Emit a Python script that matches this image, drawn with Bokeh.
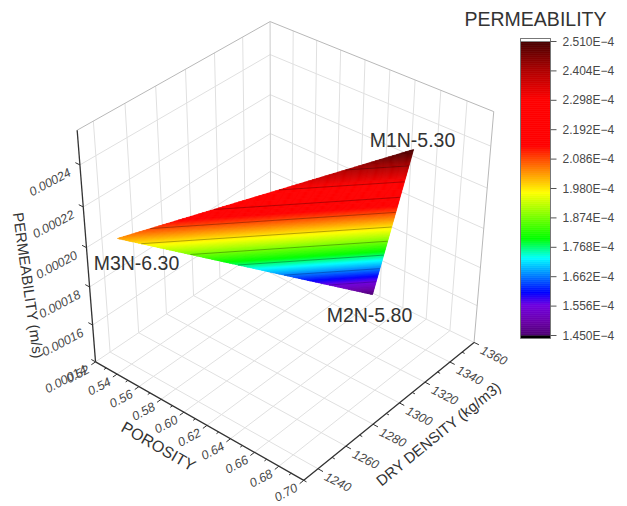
import numpy as np
from bokeh.plotting import figure
from bokeh.models import Range1d, ColumnDataSource
from bokeh.core.properties import value
from bokeh.embed import file_html
from bokeh.resources import INLINE

# ---- data ----
point_labels = ["M1N-5.30", "M2N-5.80", "M3N-6.30"]
porosity = [0.6815, 0.6208, 0.5328]
dry_density = [1319.3, 1352.9, 1241.1]
permeability = [2.51e-4, 1.45e-4, 2.03e-4]

porosity_ticks = [0.52, 0.54, 0.56, 0.58, 0.60, 0.62, 0.64, 0.66, 0.68, 0.70]
porosity_minor = [0.53, 0.55, 0.57, 0.59, 0.61, 0.63, 0.65, 0.67, 0.69]
density_ticks = [1240, 1260, 1280, 1300, 1320, 1340, 1360]
density_minor = [1230, 1250, 1270, 1290, 1310, 1330, 1350]
perm_ticks = [1.4e-4, 1.6e-4, 1.8e-4, 2.0e-4, 2.2e-4, 2.4e-4]
perm_tick_labels = ["0.00014", "0.00016", "0.00018", "0.00020", "0.00022", "0.00024"]

bar_ticks = [1.450e-4, 1.556e-4, 1.662e-4, 1.768e-4, 1.874e-4, 1.980e-4,
             2.086e-4, 2.192e-4, 2.298e-4, 2.404e-4, 2.510e-4]
bar_labels = ["1.450E\u22124", "1.556E\u22124", "1.662E\u22124", "1.768E\u22124", "1.874E\u22124",
              "1.980E\u22124", "2.086E\u22124", "2.192E\u22124", "2.298E\u22124", "2.404E\u22124",
              "2.510E\u22124"]
contour_levels = [1.556e-4, 1.662e-4, 1.768e-4, 1.874e-4, 1.980e-4, 2.086e-4, 2.192e-4, 2.298e-4, 2.404e-4]

cmap_values = [1.45e-4, 1.50e-4, 1.56e-4, 1.605e-4, 1.73e-4, 1.80e-4, 1.966e-4,
               2.135e-4, 2.30e-4, 2.404e-4, 2.51e-4]
cmap_colors = ["#4c0070", "#6a00a8", "#7000e0", "#0000ff", "#00ffff", "#00ff00", "#ffff00",
               "#ff0000", "#ff0000", "#b00000", "#460000"]

# ---- axis limits of the box ----
POR = (0.52, 0.70)
DEN = (1230.0, 1360.0)
PER = (1.40e-4, 2.56e-4)

# ---- view: where the box corners fall on the page, in window pixels ----
view = [(0, 0, 0, 95, 360), (1, 0, 0, 303, 481), (1, 1, 0, 474, 340), (0, 1, 0, 270, 245),
        (0, 0, 1, 77, 130), (0, 1, 1, 269.5, 20), (1, 1, 1, 493, 112)]
rows = []
for a, b, c, u, w in view:
    rows.append([a, b, c, 1, 0, 0, 0, 0, -u * a, -u * b, -u * c, -u])
    rows.append([0, 0, 0, 0, a, b, c, 1, -w * a, -w * b, -w * c, -w])
CAM = np.linalg.svd(np.array(rows, float))[2][-1].reshape(3, 4)


def unit(por, den, per):
    return ((por - POR[0]) / (POR[1] - POR[0]),
            (den - DEN[0]) / (DEN[1] - DEN[0]),
            (per - PER[0]) / (PER[1] - PER[0]))


def cube(a, b, c):
    q = CAM @ np.array([a, b, c, 1.0])
    return q[0] / q[2], q[1] / q[2]


def proj(por, den, per):
    return cube(*unit(por, den, per))


INK = "#333333"
SOFT = "#484848"
FONT = value("Liberation Sans")

p = figure(width=627, height=506, output_backend="svg", toolbar_location=None,
           x_range=Range1d(0, 627), y_range=Range1d(506, 0),
           min_border=0, outline_line_color=None)
p.axis.visible = False
p.grid.visible = False
p.background_fill_color = "white"


def seg(pts, color, width, alpha=1.0):
    xs, ys = zip(*[cube(*q) for q in pts])
    p.line(list(xs), list(ys), line_color=color, line_width=width, line_alpha=alpha)


GRID = "#e0e0e0"
EDGE = "#b8b8b8"
# walls and floor grid
for t in porosity_ticks[1:-1]:
    a = unit(t, DEN[0], PER[0])[0]
    seg([(a, 0, 0), (a, 1, 0), (a, 1, 1)], GRID, 1)
for t in density_ticks[:-1]:
    b = unit(POR[0], t, PER[0])[1]
    seg([(1, b, 0), (0, b, 0), (0, b, 1)], GRID, 1)
for t in perm_ticks[1:]:
    c = unit(POR[0], DEN[0], t)[2]
    seg([(0, 0, c), (0, 1, c), (1, 1, c)], GRID, 1)
# box edges
seg([(0, 0, 1), (0, 1, 1), (1, 1, 1), (1, 1, 0)], EDGE, 1)
seg([(0, 1, 0), (0, 1, 1)], "#cccccc", 1)
seg([(0, 0, 0), (0, 1, 0), (1, 1, 0)], GRID, 1)

# axes
seg([(0, 0, 0), (1, 0, 0), (1, 1, 0)], INK, 1.3)
seg([(0, 0, 0), (0, 0, 1)], INK, 1.3)
for t in porosity_ticks:
    a = unit(t, DEN[0], PER[0])[0]
    seg([(a, 0, 0), (a, -0.022, 0)], INK, 1)
for t in porosity_minor:
    a = unit(t, DEN[0], PER[0])[0]
    seg([(a, 0, 0), (a, -0.012, 0)], INK, 1)
for t in density_ticks:
    b = unit(POR[0], t, PER[0])[1]
    seg([(1, b, 0), (1.022, b, 0)], INK, 1)
for t in density_minor:
    b = unit(POR[0], t, PER[0])[1]
    seg([(1, b, 0), (1.012, b, 0)], INK, 1)
for t in perm_ticks:
    c = unit(POR[0], DEN[0], t)[2]
    seg([(0, 0, c), (-0.022, 0, c)], INK, 1)


def labels(xs, ys, texts, size, angle, color=INK, italic=False, align="center"):
    p.text(xs, ys, text=texts, text_font=FONT, text_font_size=f"{size}px", angle=angle,
           angle_units="deg", text_color=color, text_align=align, text_baseline="middle",
           text_font_style="italic" if italic else "normal")


# tick labels
pts = [proj(t, DEN[0], PER[0]) for t in porosity_ticks]
labels([q[0] - 18 for q in pts], [q[1] + 12 for q in pts], [f"{t:.2f}" for t in porosity_ticks], 12.5, 28, SOFT, True)
pts = [proj(POR[1], t, PER[0]) for t in density_ticks]
labels([q[0] + 20 for q in pts], [q[1] + 13 for q in pts], [str(t) for t in density_ticks], 12.5, -27, SOFT, True)
pts = [proj(POR[0], DEN[0], t) for t in perm_ticks]
labels([q[0] - 30 for q in pts], [q[1] + 17 for q in pts], perm_tick_labels, 12.5, 28, SOFT, True)

# axis titles
labels([158], [446], ["POROSITY"], 16, -30)
labels([438], [433], ["DRY DENSITY (kg/m3)"], 15, 39)
labels([28], [285], ["PERMEABILITY (m/s)"], 15, -82)


# colour scale
def colour(v):
    stops = np.array([[int(c[i:i + 2], 16) for i in (1, 3, 5)] for c in cmap_colors], float)
    rgb = [np.interp(v, cmap_values, stops[:, k]) for k in range(3)]
    return "#%02x%02x%02x" % tuple(int(round(x)) for x in rgb)


# triangle: one band of the plane per colour step
corners = np.array([list(unit(a, b, c)) + [c] for a, b, c in zip(porosity, dry_density, permeability)])


def clip(poly, lev, keep_above):
    out = []
    for i in range(len(poly)):
        s, e = poly[i], poly[(i + 1) % len(poly)]
        si = (s[3] >= lev) == keep_above
        ei = (e[3] >= lev) == keep_above
        if si:
            out.append(s)
        if si != ei:
            out.append(s + (e - s) * (lev - s[3]) / (e[3] - s[3]))
    return out


lo, hi = bar_ticks[0], bar_ticks[-1]
steps = np.linspace(lo, hi, 161)
band_x, band_y, band_c = [], [], []
for v0, v1 in zip(steps[:-1], steps[1:]):
    poly = clip(clip(list(corners), v0, True), v1, False)
    if len(poly) >= 3:
        xy = [cube(*q[:3]) for q in poly]
        band_x.append([q[0] for q in xy])
        band_y.append([q[1] for q in xy])
        band_c.append(colour((v0 + v1) / 2))
p.patches("x", "y", source=ColumnDataSource(dict(x=band_x, y=band_y, c=band_c)),
          fill_color="c", line_color="c", line_width=0.7, fill_alpha=1, line_alpha=1)

# contour lines
for lev in contour_levels:
    poly = clip(list(corners), lev, True)
    on = [q for q in poly if abs(q[3] - lev) < 1e-12]
    if len(on) == 2:
        seg([tuple(q[:3]) for q in on], "#000000" if lev > 1.7e-4 else "#00004a", 0.6, 0.5)

labels([412], [139], [point_labels[0]], 19.5, 0)
labels([369], [314], [point_labels[1]], 19.5, 0)
labels([136], [262], [point_labels[2]], 19.5, 0)

# colour bar
BAR_L, BAR_R = 520, 550
BAR_T, BAR_B = 41, 335


def bar_y(v):
    return BAR_B + (v - lo) / (hi - lo) * (BAR_T - BAR_B)


steps = np.linspace(lo, hi, 148)
bar_colours = [colour((a + b) / 2) for a, b in zip(steps[:-1], steps[1:])]
p.quad(left=BAR_L, right=BAR_R, bottom=[bar_y(v) for v in steps[:-1]], top=[bar_y(v) for v in steps[1:]],
       fill_color=bar_colours, line_color=bar_colours, line_width=0.6, fill_alpha=1, line_alpha=1)
p.quad(left=[BAR_L], right=[BAR_R], bottom=[BAR_B + 3], top=[BAR_B], fill_color="#000000", line_color=None, fill_alpha=1)
p.quad(left=[BAR_L], right=[BAR_R], bottom=[BAR_T], top=[BAR_T - 3], fill_color="#ffffff", line_color="#888888", line_width=1, fill_alpha=1)
p.quad(left=[BAR_L], right=[BAR_R], bottom=[BAR_B + 3], top=[BAR_T - 3], fill_color=None, line_color="#777777", line_width=1)
p.segment([BAR_R] * 11, [bar_y(v) for v in bar_ticks], [BAR_R + 6] * 11, [bar_y(v) for v in bar_ticks],
          line_color="#555555", line_width=1)
labels([562] * 11, [bar_y(v) for v in bar_ticks], bar_labels, 12, 0, SOFT, align="left")
labels([535], [18], ["PERMEABILITY"], 19.5, 0)

open("out.html", "w").write(file_html(p, INLINE))
